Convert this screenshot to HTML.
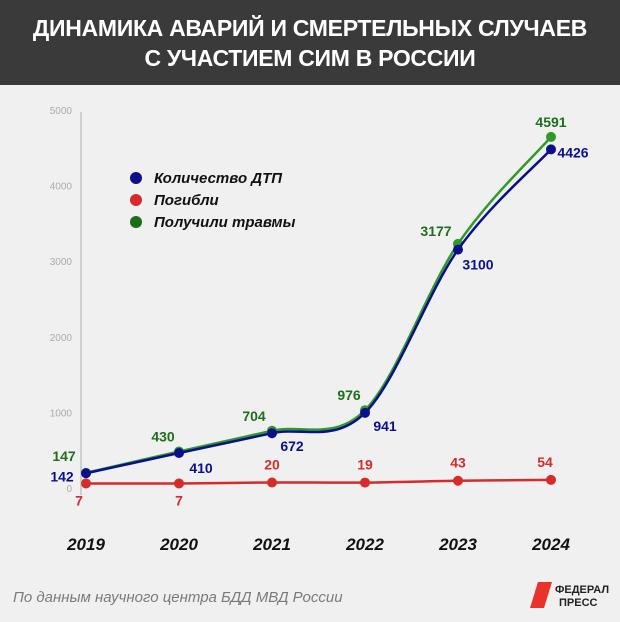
<!DOCTYPE html>
<html><head><meta charset="utf-8"><style>
body{margin:0;background:#f0f0f0;font-family:"Liberation Sans","Noto Sans CJK SC",sans-serif}
#wrap{position:relative;width:620px;height:622px;background:#f0f0f0;overflow:hidden}
#title{position:absolute;left:0;top:0;width:620px;height:85px;background:#3a3a3a;color:#fff;font-weight:bold;font-size:23px;line-height:30px;text-align:center;padding-top:13px;box-sizing:border-box;letter-spacing:-0.3px}
svg{position:absolute;left:0;top:0}
#src{position:absolute;left:13px;top:589px;font-style:italic;font-size:15px;color:#7a7a7a}
#logo{position:absolute;left:530px;top:580px;width:80px;height:30px}
</style></head><body>
<div id="wrap">
<div id="title">ДИНАМИКА АВАРИЙ И СМЕРТЕЛЬНЫХ СЛУЧАЕВ<br>С УЧАСТИЕМ СИМ В РОССИИ</div>
<svg id="chart" width="620" height="622"></svg>
<div id="src">По данным научного центра БДД МВД России</div>
<div id="logo">
<svg width="80" height="30"><polygon points="8,2 22,2 14,28 0,28" fill="#e8322b"/><text x="25" y="13" font-size="11" font-weight="bold" fill="#222" font-family="Liberation Sans">ФЕДЕРАЛ</text><text x="29" y="26" font-size="11" font-weight="bold" fill="#222" font-family="Liberation Sans">ПРЕСС</text></svg></div>
</div>
<script>
const years=["2019","2020","2021","2022","2023","2024"];
const accidents=[142,410,672,941,3100,4426];
const deaths=[7,7,20,19,43,54];
const injured=[147,430,704,976,3177,4591];
const yTicks=[0,1000,2000,3000,4000,5000];
const svg=document.getElementById('chart');
const NS='http://www.w3.org/2000/svg';
const x0=86,x1=551,y0=484,yTop=106,vmax=5000;
const xs=i=>x0+(x1-x0)*i/(years.length-1);
const ys=v=>y0-(y0-yTop)*v/vmax;
function mk(t,a){const e=document.createElementNS(NS,t);for(const k in a)e.setAttribute(k,a[k]);svg.appendChild(e);return e;}
let ax=mk('line',{x1:81,y1:112,x2:81,y2:495,stroke:'#cfcfcf','stroke-width':2});


yTicks.forEach(v=>{const t=mk('text',{x:72,y:ys(v)+8,'text-anchor':'end','font-size':10,fill:'#aaa'});t.textContent=v;

});
years.forEach((y,i)=>{const t=mk('text',{x:xs(i),y:550,'text-anchor':'middle','font-size':17,'font-weight':'bold','font-style':'italic',fill:'#111'});t.textContent=y;

});
function path(vals){const p=vals.map((v,i)=>[xs(i),ys(v)]);let d='M'+p[0][0]+','+p[0][1];
for(let i=0;i<p.length-1;i++){const a=p[i-1]||p[i],b=p[i],c=p[i+1],e=p[i+2]||c;
d+=' C'+(b[0]+(c[0]-a[0])/6)+','+(b[1]+(c[1]-a[1])/6)+' '+(c[0]-(e[0]-b[0])/6)+','+(c[1]-(e[1]-b[1])/6)+' '+c[0]+','+c[1];}return d;}
function series(vals,col,tcol,name,lab){
 const l=mk('path',{d:path(vals),fill:'none',stroke:col,'stroke-width':2.5});
 
 
 vals.forEach((v,i)=>{const c=mk('circle',{cx:xs(i),cy:ys(v),r:5,fill:col});
 
 
 const o=lab[i];const t=mk('text',{x:xs(i)+o[0],y:ys(v)+o[1],'text-anchor':'middle','font-size':14,'font-weight':'bold',fill:tcol});t.textContent=v;
 
 });
}
series(injured,'#2f9a2a','#1e6e1e','injured',[[-22,-12],[-16,-10],[-18,-10],[-16,-10],[-22,-8],[0,-10]]);
series(accidents,'#0b108a','#0b108a','accidents',[[-24,8],[22,20],[20,18],[20,18],[20,20],[22,8]]);
series(deaths,'#d62b2b','#d62b2b',"deaths",[[-7,22],[0,22],[0,-13],[0,-13],[0,-13],[-6,-13]]);
const leg=[['#0b108a','Количество ДТП'],['#d62b2b','Погибли'],['#1a6e1a','Получили травмы']];
leg.forEach((l,i)=>{const y=178+i*22;const c=mk('circle',{cx:136,cy:y,r:6,fill:l[0]});


const t=mk('text',{x:154,y:y+5,'font-size':15,'font-weight':'bold','font-style':'italic',fill:'#111'});t.textContent=l[1];

});
</script>
</body></html>
